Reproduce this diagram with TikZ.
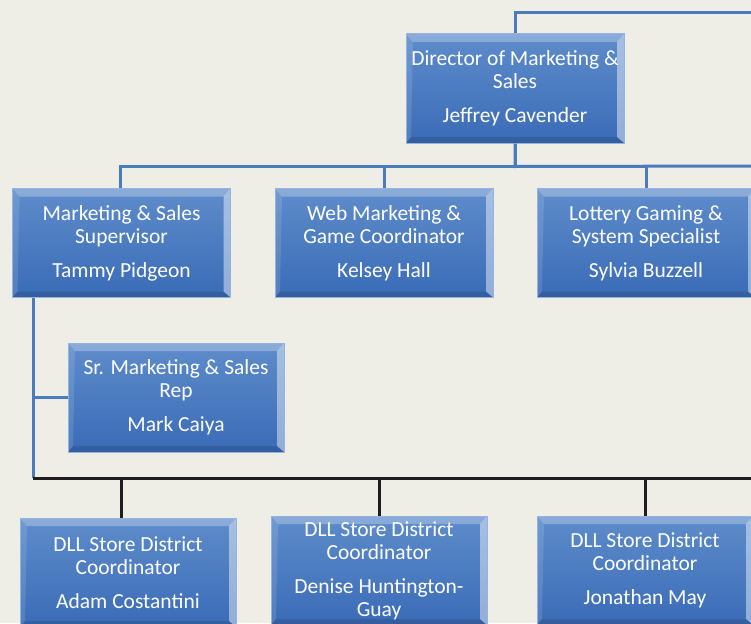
\documentclass[tikz,border=0pt]{standalone}
\usepackage{fontspec}
\setmainfont{Carlito}
\definecolor{paper}{HTML}{EEEDE6}
\definecolor{cardtop}{HTML}{5E8CCB}
\definecolor{cardbot}{HTML}{3A6BB6}
\definecolor{cardedge}{HTML}{94B4E0}
\definecolor{linkblue}{HTML}{4A7BBE}
\definecolor{linkblack}{HTML}{1E1E1E}
\newcommand\cardfont{\fontsize{21.5}{23}\selectfont}
\tikzstyle{px}=[x={(1pt,0pt)},y={(0pt,-1pt)}]
\tikzstyle{card}=[rectangle,minimum width=218pt,minimum height=109pt,inner sep=1pt,
	top color=cardtop,bottom color=cardbot,draw=cardedge,line width=1pt,
	text=white,align=center,font=\cardfont,
	path picture={
		\fill[white,opacity=.28] (path picture bounding box.north west) -- (path picture bounding box.north east)
			-- ([shift={(-7pt,-8pt)}]path picture bounding box.north east) -- ([shift={(7pt,-8pt)}]path picture bounding box.north west) -- cycle;
		\fill[white,opacity=.45] (path picture bounding box.north east) -- (path picture bounding box.south east)
			-- ([shift={(-7pt,6pt)}]path picture bounding box.south east) -- ([shift={(-7pt,-8pt)}]path picture bounding box.north east) -- cycle;
		\fill[white,opacity=.12] (path picture bounding box.north west) -- (path picture bounding box.south west)
			-- ([shift={(5pt,6pt)}]path picture bounding box.south west) -- ([shift={(7pt,-8pt)}]path picture bounding box.north west) -- cycle;
		\fill[black,opacity=.12] (path picture bounding box.south west) -- (path picture bounding box.south east)
			-- ([shift={(-7pt,6pt)}]path picture bounding box.south east) -- ([shift={(5pt,6pt)}]path picture bounding box.south west) -- cycle;
	}]
\tikzstyle{blueline}=[draw=linkblue,line width=3pt]
\tikzstyle{blackline}=[draw=linkblack,line width=3pt]

\begin{document}
\begin{tikzpicture}[px]
	\fill[paper] (0,0) rectangle (751,623);
	\useasboundingbox (0,0) rectangle (751,623);
%
	\coordinate (topright) at (770,13);
	\coordinate (branchright) at (770,166);
	\coordinate (railstart) at (33,478);
	\coordinate (railend) at (770,478);
%
	\node[card] (director) at (515,88.5) {Director of Marketing \&\\Sales\\[11pt]Jeffrey Cavender};
	\node[card] (supervisor) at (121.5,243) {Marketing \& Sales\\Supervisor\\[11pt]Tammy Pidgeon};
	\node[card] (webcoord) at (384,243) {Web Marketing \&\\Game Coordinator\\[11pt]Kelsey Hall};
	\node[card] (lottery) at (646,243) {Lottery Gaming \&\\System Specialist\\[11pt]Sylvia Buzzell};
	\node[card,minimum width=216pt] (srrep) at (176,397.5) {Sr. Marketing \& Sales\\Rep\\[11pt]Mark Caiya};
	\node[card,minimum width=216pt] (adam) at (128,572.5) {DLL Store District\\Coordinator\\[11pt]Adam Costantini};
	\node[card,minimum width=216pt] (denise) at (379,570.5) {DLL Store District\\Coordinator\\[11pt]Denise Huntington-\\Guay};
	\node[card,minimum width=216pt] (jonathan) at (645,570.5) {DLL Store District\\Coordinator\\[11pt]Jonathan May};
%
	\draw[blueline] (director.north) |- (topright);
	\draw[blueline] (director.south) -- ++(0,23) -- (branchright);
	\draw[blueline] (director.south) -- ++(0,23) -| ([xshift=-1.5pt]supervisor.north);
	\draw[blueline] (director.south) -- ++(0,23) -| (webcoord.north);
	\draw[blueline] (director.south) -- ++(0,23) -| (lottery.north);
%
	\draw[blueline] (supervisor.south -| railstart) -- (railstart);
	\draw[blueline] (supervisor.south -| railstart) |- (srrep.west);
%
	\draw[blackline] (railstart) -- (railend);
	\draw[blackline] ([xshift=-7pt]adam.north) -- ([xshift=-7pt]adam.north |- railstart);
	\draw[blackline] (denise.north) -- (denise.north |- railstart);
	\draw[blackline] (jonathan.north) -- (jonathan.north |- railstart);
\end{tikzpicture}
\end{document}
